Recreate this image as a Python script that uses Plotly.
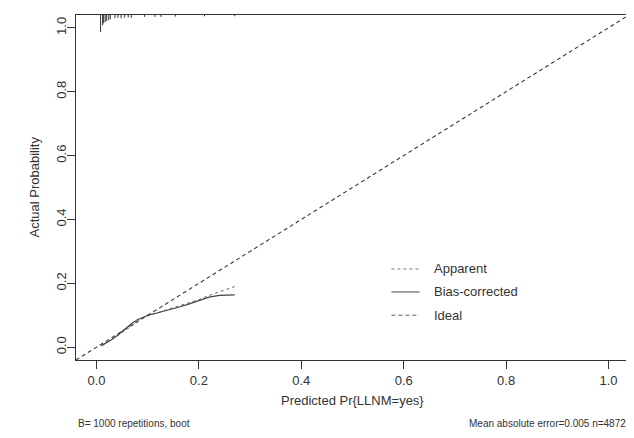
import plotly.graph_objects as go

# ---- data ----
predicted = [0.01, 0.02, 0.03, 0.04, 0.05, 0.06, 0.07, 0.08, 0.09, 0.10,
             0.12, 0.14, 0.16, 0.18, 0.20, 0.22, 0.24, 0.26, 0.27]
bias_corrected = [0.005, 0.014, 0.024, 0.036, 0.050, 0.064, 0.076, 0.086, 0.094, 0.100,
                  0.108, 0.116, 0.125, 0.135, 0.146, 0.157, 0.162, 0.163, 0.164]
apparent = [0.005, 0.014, 0.024, 0.035, 0.046, 0.058, 0.070, 0.080, 0.090, 0.098,
            0.108, 0.117, 0.127, 0.137, 0.149, 0.162, 0.174, 0.186, 0.190]
ideal = [-0.04, 1.04]

# distribution of predicted values (rug at top): position, relative spike length
rug_x = [0.008, 0.012, 0.014, 0.017, 0.020, 0.024, 0.027, 0.036, 0.042, 0.048,
         0.055, 0.062, 0.068, 0.094, 0.114, 0.126, 0.154, 0.211, 0.270]
rug_len = [0.053, 0.032, 0.026, 0.022, 0.019, 0.016, 0.013, 0.010, 0.009, 0.010,
           0.008, 0.008, 0.009, 0.006, 0.006, 0.006, 0.005, 0.004, 0.004]

ticks = [0.0, 0.2, 0.4, 0.6, 0.8, 1.0]
tick_labels = ["0.0", "0.2", "0.4", "0.6", "0.8", "1.0"]
legend_names = ["Apparent", "Bias-corrected", "Ideal"]

FONT = "Liberation Sans, Arial, sans-serif"
TXT = "#333333"
top = 1.04

fig = go.Figure()

# ideal
fig.add_trace(go.Scatter(x=ideal, y=ideal, mode="lines",
                         line=dict(color="#3a3a3a", width=1.1, dash="4px,3px")))
# apparent
fig.add_trace(go.Scatter(x=predicted, y=apparent, mode="lines",
                         line=dict(color="#666666", width=1, dash="dot")))
# bias-corrected
fig.add_trace(go.Scatter(x=predicted, y=bias_corrected, mode="lines",
                         line=dict(color="#444444", width=1.2)))
# rug
rx, ry = [], []
for xv, lv in zip(rug_x, rug_len):
    rx += [xv, xv, None]
    ry += [top, top - lv, None]
fig.add_trace(go.Scatter(x=rx, y=ry, mode="lines",
                         line=dict(color="#333333", width=1), cliponaxis=False))

# manual legend (data coords)
leg_y = [0.245, 0.173, 0.100]
leg_styles = [dict(color="#777777", width=1, dash="dot"),
              dict(color="#666666", width=1.2),
              dict(color="#666666", width=1, dash="4px,3px")]
for name, yy, st in zip(legend_names, leg_y, leg_styles):
    fig.add_shape(type="line", x0=0.576, x1=0.631, y0=yy, y1=yy, xref="x", yref="y", line=st)
    fig.add_annotation(x=0.656, y=yy, xref="x", yref="y", text=name, showarrow=False,
                       xanchor="left", yanchor="middle",
                       font=dict(family=FONT, size=13, color=TXT))

# titles and notes (positions given in page pixels, plot area spans x 76..629, y 15..360)
H = 345.0
W = 553.0
fig.add_annotation(x=(352 - 76) / W, y=(360 - 401) / H, xref="paper", yref="paper",
                   text="Predicted Pr{LLNM=yes}", showarrow=False,
                   xanchor="center", yanchor="middle",
                   font=dict(family=FONT, size=13, color=TXT))
fig.add_annotation(x=(34 - 76) / W, y=0.5, xref="paper", yref="paper",
                   text="Actual Probability", showarrow=False, textangle=-90,
                   xanchor="center", yanchor="middle",
                   font=dict(family=FONT, size=13, color=TXT))
fig.add_annotation(x=(76 - 76) / W, y=(360 - 423) / H, xref="paper", yref="paper",
                   text="B= 1000 repetitions, boot", showarrow=False,
                   xanchor="left", yanchor="middle",
                   font=dict(family=FONT, size=10, color=TXT))
fig.add_annotation(x=(628 - 76) / W, y=(360 - 423) / H, xref="paper", yref="paper",
                   text="Mean absolute error=0.005 n=4872", showarrow=False,
                   xanchor="right", yanchor="middle",
                   font=dict(family=FONT, size=10, color=TXT))

axis_common = dict(range=[-0.04, 1.04], tickvals=ticks, ticktext=tick_labels,
                   ticks="outside", ticklen=8, tickwidth=1, tickcolor="#333333",
                   showline=True, linecolor="#333333", linewidth=1, mirror=True,
                   showgrid=False, zeroline=False,
                   tickfont=dict(family=FONT, size=13, color=TXT))

# the page body adds an 8px offset, so the figure is 8px smaller and margins compensate
fig.update_layout(
    width=626, height=430,
    margin=dict(l=68, r=5, t=7, b=78),
    paper_bgcolor="white", plot_bgcolor="white",
    showlegend=False, hovermode=False,
    xaxis=dict(**axis_common),
    yaxis=dict(**axis_common, tickangle=-90, ticklabelstandoff=-4),
)

fig.write_html("out.html")
